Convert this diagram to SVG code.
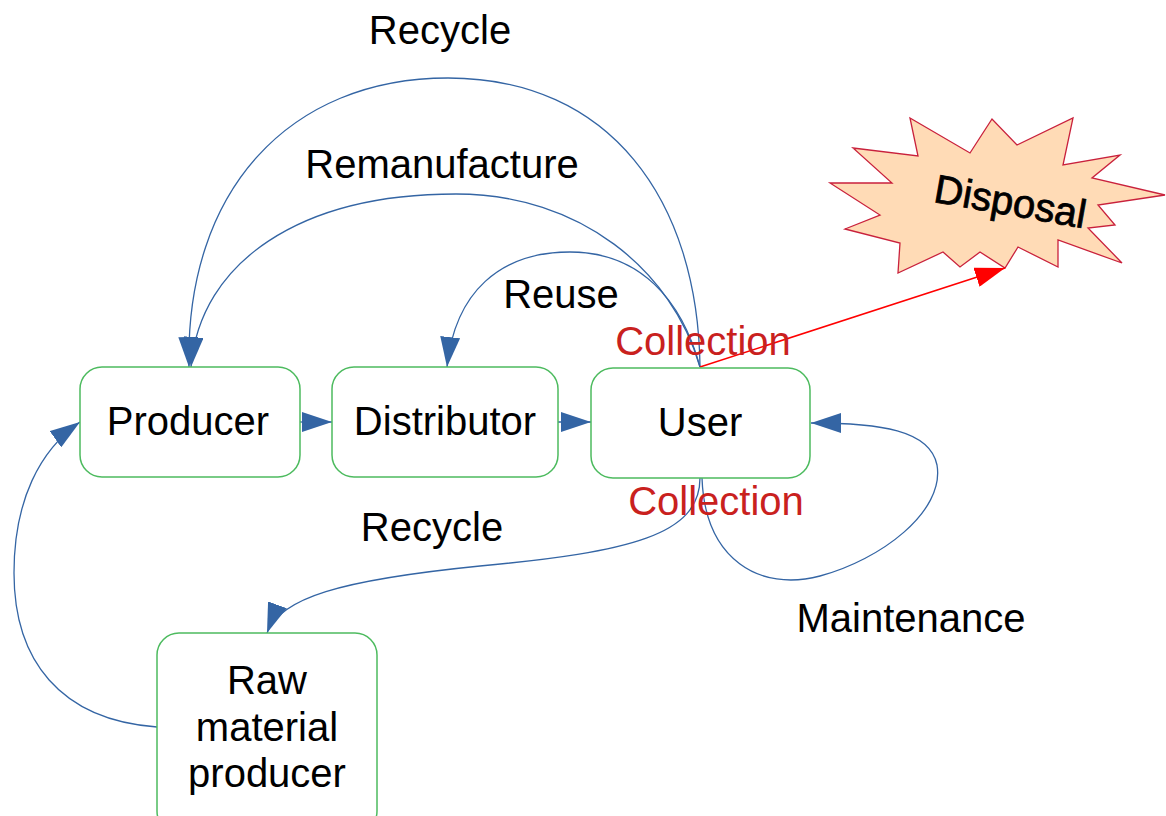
<svg xmlns="http://www.w3.org/2000/svg" width="1166" height="816" viewBox="0 0 1166 816">
<style>
.box{fill:#ffffff;stroke:#4dbb5f;stroke-width:1.5}
.t{font-family:"Liberation Sans",Arial,sans-serif;font-size:40px;fill:#000000;text-anchor:middle}
.red{fill:#c9211e}
.c{fill:none;stroke:#3465a4;stroke-width:1.3}
.rc{fill:none;stroke:#ff0000;stroke-width:1.5}
</style>
<defs>
<marker id="ab" viewBox="0 0 30 20" refX="30" refY="10" markerWidth="30" markerHeight="20" markerUnits="userSpaceOnUse" orient="auto">
<path d="M0,0 L30,10 L0,20 Z" fill="#3465a4"/>
</marker>
<marker id="ar" viewBox="0 0 30 20" refX="30" refY="10" markerWidth="30" markerHeight="20" markerUnits="userSpaceOnUse" orient="auto">
<path d="M0,0 L30,10 L0,20 Z" fill="#ff0000"/>
</marker>
</defs>
<rect width="1166" height="816" fill="#ffffff"/>
<g id="disposal">
<polygon points="910,118 918,156 853,148 892,183 830,183 880,215 845,229 900,243 898,273 943,252 960,267 980,252 1005,268 1018,247 1058,267 1058,240 1122,263 1088,228 1115,225 1098,205 1165,195 1092,178 1120,155 1063,165 1073,118 1017,145 992,119 970,153" fill="#ffdbb6" stroke="#c9213c" stroke-width="1.3"/>
<text class="t" x="1008" y="215" transform="rotate(10 1008 215)" stroke="#000000" stroke-width="0.8">Disposal</text>
</g>
<g id="connectors">
<path class="c" d="M700,367 C698,200 610,78 448,78 C290,78 185,190 189,367" marker-end="url(#ab)"/>
<path class="c" d="M700,367 C672,270 580,194 456,194 C300,194 200,262 191,367" marker-end="url(#ab)"/>
<path class="c" d="M700,367 C682,300 640,252 570,252 C500,252 455,292 447,367" marker-end="url(#ab)"/>
<path class="c" d="M300,422 L332,422" marker-end="url(#ab)"/>
<path class="c" d="M558,422 L591,422" marker-end="url(#ab)"/>
<path class="c" d="M700,478 C700,535 630,552 480,566 C340,580 280,598 267,633" marker-end="url(#ab)"/>
<path class="c" d="M157,727 C60,720 14,660 14,573 C14,500 40,450 80,422" marker-end="url(#ab)"/>
<path class="c" d="M702,478 C705,560 760,592 820,576 C880,560 945,512 937,465 C930,430 880,423 811,423" marker-end="url(#ab)"/>
<path class="rc" d="M700,367 L1005,268" marker-end="url(#ar)"/>
</g>
<g id="producer">
<rect class="box" x="80" y="367" width="220" height="110" rx="22"/>
<text class="t" x="188" y="435">Producer</text>
</g>
<g id="distributor">
<rect class="box" x="332" y="367" width="226" height="110" rx="22"/>
<text class="t" x="445" y="435">Distributor</text>
</g>
<g id="user">
<rect class="box" x="591" y="368" width="219" height="110" rx="22"/>
<text class="t" x="700" y="436">User</text>
</g>
<g id="raw">
<rect class="box" x="157" y="633" width="220" height="200" rx="22"/>
<text class="t" x="267" y="694">Raw</text>
<text class="t" x="267" y="741">material</text>
<text class="t" x="267" y="787">producer</text>
</g>
<g id="labels">
<text class="t" x="440" y="44">Recycle</text>
<text class="t" x="442" y="178">Remanufacture</text>
<text class="t" x="561" y="308">Reuse</text>
<text class="t red" x="703" y="355">Collection</text>
<text class="t red" x="716" y="515">Collection</text>
<text class="t" x="432" y="541">Recycle</text>
<text class="t" x="911" y="632">Maintenance</text>
</g>
</svg>
